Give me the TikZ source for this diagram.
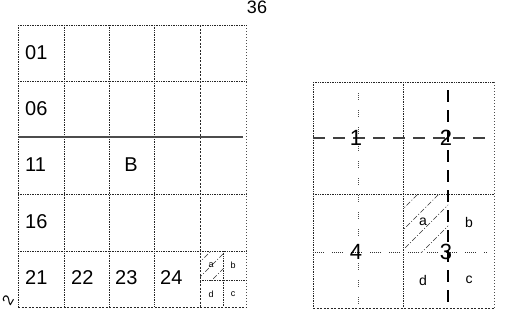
\documentclass[tikz,border=0pt]{standalone}
\usepackage{fontspec}
\setmainfont{Liberation Sans}

\begin{document}
\begin{tikzpicture}[x=1pt, y=-1pt,
	gridline/.style={densely dotted, line width=0.7pt, black!85},
	edgeline/.style={dash pattern=on 2pt off 1.5pt, line width=0.7pt, black!85},
	rimline/.style={dotted, line width=1pt, black!70},
	rowline/.style={line width=1.1pt, black!70},
	bigdash/.style={dash pattern=on 12pt off 8pt, line width=1.3pt},
	wavy/.style={dash pattern=on 1pt off 1pt on 1pt off 1pt on 1pt off 1pt on 1pt off 10pt, line width=0.9pt, black!70},
	dotrun/.style={dash pattern=on 1pt off 1pt on 1pt off 1pt on 1pt off 1pt on 1pt off 1pt on 1pt off 1pt on 1pt off 8pt, line width=0.8pt, black!80},
	hatch/.style={dash pattern=on 5pt off 2pt on 1pt off 2pt, line width=0.6pt, black!80},
	cellnum/.style={font=\fontsize{20}{20}\selectfont, inner sep=0pt},
	bignum/.style={font=\fontsize{22}{22}\selectfont, inner sep=0pt},
	quarter/.style={font=\fontsize{14}{14}\selectfont, inner sep=0pt},
	tiny/.style={font=\fontsize{9}{9}\selectfont, inner sep=0pt},
]
	\useasboundingbox (0,0) rectangle (511,330);

	% Left grid: 5 x 5 cells
	\foreach \x in {18, 64, 109, 154} {
		\draw[gridline] (\x,25) -- (\x,307);
	}
	\draw[edgeline] (200,25) -- (200,307);
	\draw[rimline] (246,25) -- (246,307);
	\foreach \y in {25, 81, 194, 251} {
		\draw[gridline] (18,\y) -- (246,\y);
	}
	\draw[rowline] (18,137) -- (243,137);
	\draw[edgeline] (18,307) -- (246,307);

	% Last cell split in four, first quarter hatched
	\draw[gridline] (223,251) -- (223,307);
	\draw[gridline] (200,280) -- (246,280);
	\begin{scope}
		\clip (200,251) rectangle (223,280);
		\foreach \s in {462, 477, 492} {
			\draw[hatch] (\s-300,300) -- (\s-240,240);
		}
	\end{scope}

	% Cell labels
	\foreach \n/\y in {01/53, 06/109, 11/165, 16/222} {
		\node[cellnum, anchor=west] (c\n) at (25,\y) {\n};
	}
	\foreach \n/\x in {21/25, 22/71, 23/115, 24/160} {
		\node[cellnum, anchor=west] (c\n) at (\x,278) {\n};
	}
	\node[cellnum] (blk) at (131,165) {B};
	\foreach \q/\x/\y in {a/211/265, b/233/265, d/211/294, c/233/294} {
		\node[tiny] (s\q) at (\x,\y) {\q};
	}
	\node[font=\fontsize{18}{18}\selectfont, inner sep=0pt] (top) at (257,7) {36};
	\node[font=\fontsize{15}{15}\selectfont, inner sep=0pt, rotate=60] (side) at (8,300) {2};

	% Right grid: 2 x 2 cells
	\foreach \x in {313, 403} {
		\draw[gridline] (\x,82) -- (\x,308);
	}
	\draw[rimline] (494,82) -- (494,308);
	\foreach \y in {82, 194} {
		\draw[gridline] (313,\y) -- (494,\y);
	}
	\draw[edgeline] (313,308) -- (494,308);

	% Hatched quarter
	\begin{scope}
		\clip (403,194) rectangle (448,252);
		\foreach \s in {612, 633, 653, 674} {
			\draw[hatch] (\s-460,460) -- (\s-140,140);
		}
	\end{scope}

	% Axes through the cells
	\draw[bigdash, black!75] (313,138) -- (488,138);
	\draw[bigdash] (448,90) -- (448,306);
	\draw[wavy] (358,93) -- (358,306);
	\draw[dotrun] (313,252) -- (488,252);

	% Labels
	\foreach \n/\x/\y in {1/356/138, 2/446/138, 3/446/252, 4/356/252} {
		\node[bignum] (n\n) at (\x,\y) {\n};
	}
	\foreach \q/\x/\y in {a/423/222, b/469/222, d/423/280, c/469/280} {
		\node[quarter] (q\q) at (\x,\y) {\q};
	}
\end{tikzpicture}
\end{document}
